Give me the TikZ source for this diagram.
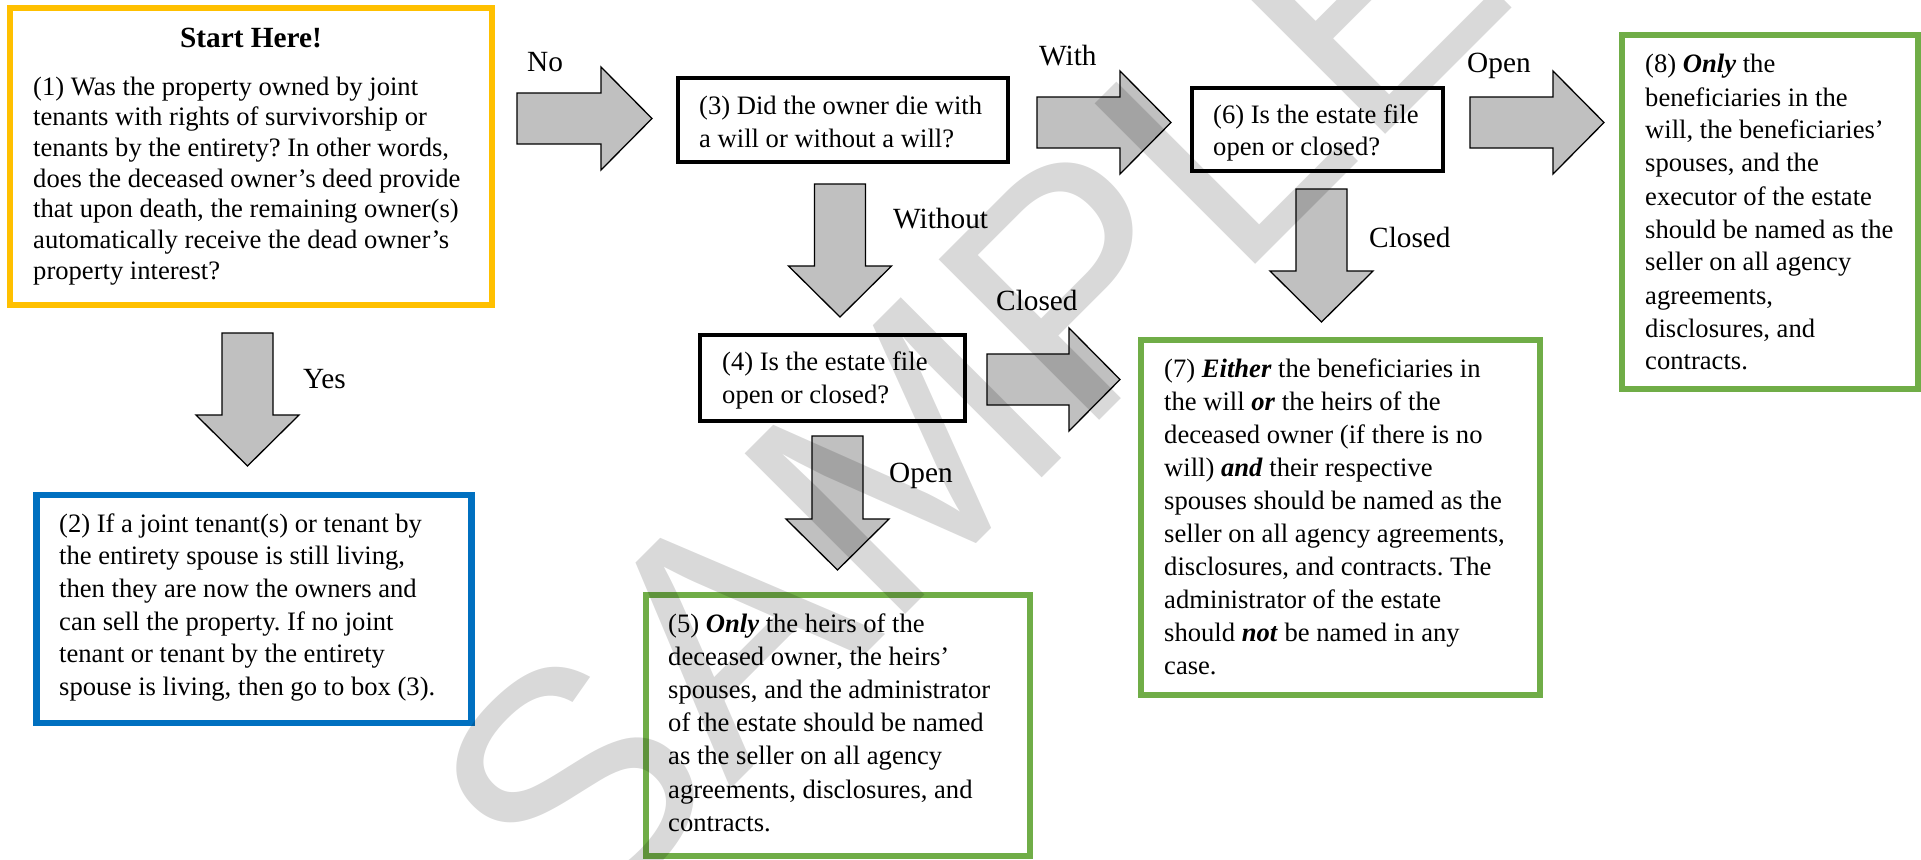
\documentclass[tikz,border=0pt]{standalone}
\usepackage{fontspec}
\setmainfont{Liberation Serif}
\newfontfamily\wmfont{Liberation Sans}
\usetikzlibrary{calc}
\frenchspacing
\definecolor{goldc}{RGB}{255,192,0}
\definecolor{bluec}{RGB}{0,112,192}
\definecolor{greenc}{RGB}{112,173,71}
\definecolor{arrowc}{RGB}{192,192,192}
\newcommand{\boxtext}[2]{\vtop{\hsize=1000pt\parindent=0pt\leftskip=0pt\rightskip=0pt plus 1fil\fontsize{26.6}{#1}\selectfont\frenchspacing\noindent #2\par}}
\newcommand{\bi}[1]{\textbf{\textit{#1}}}
\tikzset{
  frame/.style={draw, inner sep=0pt, outer sep=0pt},
  ybox/.style={frame, draw=goldc, line width=6pt},
  bbox/.style={frame, draw=bluec, line width=6.5pt},
  kbox/.style={frame, draw=black, line width=4.5pt},
  gbox/.style={frame, draw=greenc, line width=6.5pt},
  txt/.style={anchor=base west, inner sep=0pt},
  lab/.style={anchor=base west, inner sep=0pt, font=\fontsize{29.3}{30}\selectfont},
  rarrow/.style={draw=black, fill=arrowc, line width=1.3pt, line join=miter,
    to path={($(\tikztostart)+(0,-25.5)$) -- ($(\tikztotarget)+(-51,-25.5)$) -- ($(\tikztotarget)+(-51,-51.5)$) -- (\tikztotarget) -- ($(\tikztotarget)+(-51,51.5)$) -- ($(\tikztotarget)+(-51,25.5)$) -- ($(\tikztostart)+(0,25.5)$) -- cycle}},
  darrow/.style={draw=black, fill=arrowc, line width=1.3pt, line join=miter,
    to path={($(\tikztostart)+(-25.5,0)$) -- ($(\tikztotarget)+(-25.5,-51)$) -- ($(\tikztotarget)+(-51.5,-51)$) -- (\tikztotarget) -- ($(\tikztotarget)+(51.5,-51)$) -- ($(\tikztotarget)+(25.5,-51)$) -- ($(\tikztostart)+(25.5,0)$) -- cycle}},
  wm/.style={anchor=base west, inner sep=0pt, rotate=45, text=black, text opacity=0.15,
    font=\wmfont\fontsize{330}{330}\selectfont}
}
\begin{document}
\begin{tikzpicture}[x=1pt,y=-1pt]
\useasboundingbox (0,0) rectangle (1921,859);
\fill[white] (0,0) rectangle (1921,859);
% boxes
\node[ybox, minimum width=482, minimum height=297] (b1) at (251,156.5) {};
\node[bbox, minimum width=435, minimum height=228] (b2) at (254,609) {};
\node[kbox, minimum width=330, minimum height=84] (b3) at (843,120) {};
\node[kbox, minimum width=265, minimum height=86] (b4) at (832.5,378) {};
\node[gbox, minimum width=384, minimum height=261] (b5) at (838,725.5) {};
\node[kbox, minimum width=251, minimum height=83] (b6) at (1317.5,129.5) {};
\node[gbox, minimum width=399, minimum height=355] (b7) at (1340.5,517.5) {};
\node[gbox, minimum width=296, minimum height=354] (b8) at (1770,212) {};
% texts
\node[anchor=base, inner sep=0pt, font=\fontsize{29.3}{30}\selectfont\bfseries] (t1h) at (251,48) {Start Here!};
\node[txt] (t1) at (33,95) {\boxtext{30.7}{(1) Was the property owned by joint\\tenants with rights of survivorship or\\tenants by the entirety? In other words,\\does the deceased owner’s deed provide\\that upon death, the remaining owner(s)\\automatically receive the dead owner’s\\property interest?}};
\node[txt] (t2) at (59,532) {\boxtext{32.7}{(2) If a joint tenant(s) or tenant by\\the entirety spouse is still living,\\then they are now the owners and\\can sell the property. If no joint\\tenant or tenant by the entirety\\spouse is living, then go to box (3).}};
\node[txt] (t3) at (699,114) {\boxtext{33.3}{(3) Did the owner die with\\a will or without a will?}};
\node[txt] (t4) at (722,370) {\boxtext{33}{(4) Is the estate file\\open or closed?}};
\node[txt] (t5) at (668,632) {\boxtext{33.2}{(5) \bi{Only} the heirs of the\\deceased owner, the heirs’\\spouses, and the administrator\\of the estate should be named\\as the seller on all agency\\agreements, disclosures, and\\contracts.}};
\node[txt] (t6) at (1213,123) {\boxtext{32}{(6) Is the estate file\\open or closed?}};
\node[txt] (t7) at (1164,377) {\boxtext{33.1}{(7) \bi{Either} the beneficiaries in\\the will \bi{or} the heirs of the\\deceased owner (if there is no\\will) \bi{and} their respective\\spouses should be named as the\\seller on all agency agreements,\\disclosures, and contracts. The\\administrator of the estate\\should \bi{not} be named in any\\case.}};
\node[txt] (t8) at (1645,73) {\boxtext{33}{(8) \bi{Only} the\\beneficiaries in the\\will, the beneficiaries’\\spouses, and the\\executor of the estate\\should be named as the\\seller on all agency\\agreements,\\disclosures, and\\contracts.}};
% arrow end points
\coordinate (a13s) at (517,118.5);  \coordinate (a13e) at (652,118.5);
\coordinate (a12s) at (247.5,333);  \coordinate (a12e) at (247.5,466);
\coordinate (a34s) at (840,184);    \coordinate (a34e) at (840,317);
\coordinate (a36s) at (1037,122.5); \coordinate (a36e) at (1171,122.5);
\coordinate (a47s) at (987,379.5);  \coordinate (a47e) at (1120,379.5);
\coordinate (a45s) at (837.5,436);  \coordinate (a45e) at (837.5,570);
\coordinate (a67s) at (1321.5,189); \coordinate (a67e) at (1321.5,322);
\coordinate (a68s) at (1470,122.5); \coordinate (a68e) at (1604,122.5);
\draw[rarrow] (a13s) to (a13e);
\draw[darrow] (a12s) to (a12e);
\draw[darrow] (a34s) to (a34e);
\draw[rarrow] (a36s) to (a36e);
\draw[rarrow] (a47s) to (a47e);
\draw[darrow] (a45s) to (a45e);
\draw[darrow] (a67s) to (a67e);
\draw[rarrow] (a68s) to (a68e);
% labels
\node[lab] (lno) at (527,71) {No};
\node[lab] (lyes) at (303,388) {Yes};
\node[lab] (lwith) at (1039,66) {With};
\node[lab] (lwithout) at (893,228) {Without};
\node[lab] (lc47) at (996,310) {Closed};
\node[lab] (lc67) at (1369,247) {Closed};
\node[lab] (lo68) at (1467,73) {Open};
\node[lab] (lo45) at (889,482) {Open};
% watermark
\node[wm] (wmark) at (575,945) {SAMPLE};
\end{tikzpicture}
\end{document}
